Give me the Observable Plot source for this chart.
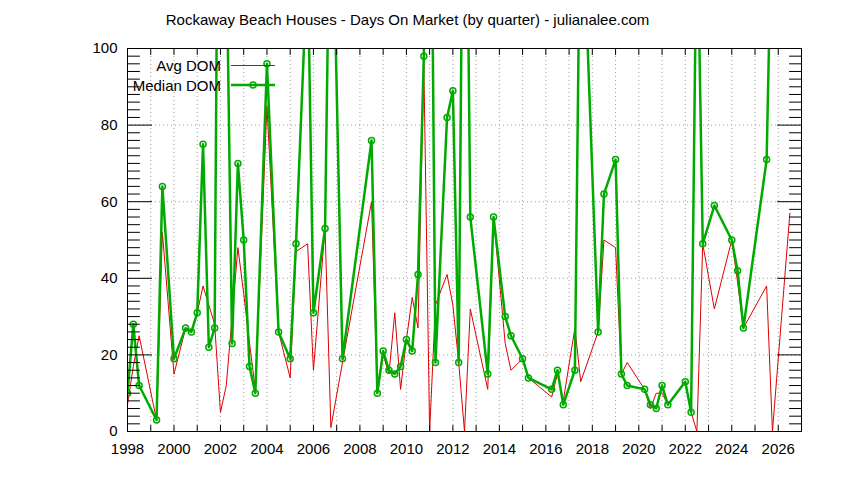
<!DOCTYPE html>
<html>
<head>
<meta charset="utf-8">
<script src="https://cdn.jsdelivr.net/npm/d3@7"></script>
<script src="https://cdn.jsdelivr.net/npm/@observablehq/plot@0.6"></script>
<style>
  body { margin: 0; background: #fff; font-family: "Liberation Sans", Arial, sans-serif; }
  #wrap { position: relative; width: 844px; height: 480px; overflow: hidden; }
  #title { position: absolute; left: 0; top: 0; width: 815px; height: 36px; text-align: center;
           font-size: 15px; line-height: 40px; color: #000; }
  #chart { position: absolute; left: 0; top: 36px; }
  #legend { position: absolute; left: 0; top: 0; pointer-events: none; }
</style>
</head>
<body>
<div id="wrap">
  <div id="title">Rockaway Beach Houses - Days On Market (by quarter) - julianalee.com</div>
  <div id="chart"></div>
  <svg id="legend" width="844" height="100" font-family="Liberation Sans, Arial, sans-serif" font-size="15">
    <text x="221" y="65" text-anchor="end" dominant-baseline="central">Avg DOM</text>
    <line x1="231" x2="275" y1="65.5" y2="65.5" stroke="#dd0000" stroke-width="1"></line>
    <text x="221" y="85" text-anchor="end" dominant-baseline="central">Median DOM</text>
    <line x1="231" x2="275" y1="85" y2="85" stroke="#00aa00" stroke-width="2.5"></line>
    <circle cx="253" cy="85" r="3" fill="none" stroke="#00aa00" stroke-width="1.5"></circle>
  </svg>
</div>
<script>
// Quarter positions (year + fraction)
const quarters = [
  1998.0, 1998.25, 1998.5, 1999.25, 1999.5, 2000.0, 2000.5, 2000.75, 2001.0, 2001.25,
  2001.5, 2001.75, 2002.0, 2002.25, 2002.5, 2002.75, 2003.0, 2003.25, 2003.5, 2004.0,
  2004.5, 2005.0, 2005.25, 2005.75, 2006.0, 2006.5, 2006.75, 2007.25, 2008.5, 2008.75,
  2009.0, 2009.25, 2009.5, 2009.75, 2010.0, 2010.25, 2010.5, 2010.75, 2011.0, 2011.25,
  2011.75, 2012.0, 2012.25, 2012.5, 2012.75, 2013.5, 2013.75, 2014.25, 2014.5, 2015.0,
  2015.25, 2016.25, 2016.5, 2016.75, 2017.25, 2017.5, 2018.25, 2018.5, 2019.0, 2019.25,
  2019.5, 2020.25, 2020.5, 2020.75, 2021.0, 2021.25, 2022.0, 2022.25, 2022.5, 2022.75,
  2023.25, 2024.0, 2024.25, 2024.5, 2025.5, 2025.75, 2026.5
];
// Average days on market
const avgDom = [
  7, 17, 25, 3, 52, 15, 27, 26, 31, 38,
  33, 28, 5, 12, 30, 48, 36, 23, 11, 85,
  26, 14, 47, 49, 16, 53, 1, 18, 60, 10,
  20, 15, 31, 11, 24, 35, 27, 96, 0, 33,
  41, 33, 18, 0, 32, 11, 56, 23, 16, 19,
  14, 9, 15, 8, 27, 13, 26, 50, 48, 15,
  18, 11, 6, 10, 10, 7, 13, 5, 0, 49,
  32, 50, 39, 27, 38, 0, 57
];
// Median days on market (null = no value)
const medianDom = [
  10, 28, 12, 3, 64, 19, 27, 26, 31, 75,
  22, 27, 250, 130, 23, 70, 50, 17, 10, 96,
  26, 19, 49, 124, 31, 53, 160, 19, 76, 10,
  21, 16, 15, 17, 24, 21, 41, 98, 200, 18,
  82, 89, 18, 200, 56, 15, 56, 30, 25, 19,
  14, 11, 16, 7, 16, 150, 26, 62, 71, 15,
  12, 11, 7, 6, 12, 7, 13, 5, 140, 49,
  59, 50, 42, 27, 71, 145, null
];
const yearTicks = d3.range(1998, 2028);
const yearLabels = d3.range(1998, 2027, 2);
const yLabels = [0, 20, 40, 60, 80, 100];
const yGrid = [20, 40, 60, 80];
const yMinor = d3.range(0, 101, 2);

const rows = quarters.map((q, i) => ({q, avg: avgDom[i], med: medianDom[i]}));

const tickShape = {draw(ctx, l) { ctx.moveTo(0, 0); ctx.lineTo(0, -l); }};
const grid = {stroke: "#a0a0a0", strokeOpacity: 1, strokeDasharray: "1,3"};
const tk = {shape: tickShape, anchor: "start", stroke: "black", strokeWidth: 1};

const chart = Plot.plot({
  width: 844,
  height: 444,
  marginTop: 12,
  marginBottom: 49,
  marginLeft: 127,
  marginRight: 43,
  style: {fontFamily: "Liberation Sans, Arial, sans-serif", fontSize: "15px", color: "black", background: "white", overflow: "visible"},
  x: {domain: [1998, 2027]},
  y: {domain: [0, 100]},
  marks: [
    Plot.gridX(yearTicks, grid),
    Plot.gridY(yGrid, grid),
    Plot.line(rows, {x: "q", y: "avg", filter: d => d.avg != null, stroke: "#dd0000", strokeWidth: 1, clip: true}),
    Plot.line(rows, {x: "q", y: "med", filter: d => d.med != null, stroke: "#00aa00", strokeWidth: 2.5, clip: true}),
    Plot.dot(rows, {x: "q", y: "med", filter: d => d.med != null, r: 3, stroke: "#00aa00", strokeWidth: 1.5, fill: "none", clip: true}),
    Plot.vector(yearTicks, {...tk, x: d => d, frameAnchor: "bottom", length: 6, rotate: 0}),
    Plot.vector(yearTicks, {...tk, x: d => d, frameAnchor: "top", length: 6, rotate: 180}),
    Plot.vector(yMinor, {...tk, y: d => d, frameAnchor: "left", length: d => d % 20 === 0 ? 6 : 3, rotate: 90}),
    Plot.vector(yMinor, {...tk, y: d => d, frameAnchor: "right", length: d => d % 20 === 0 ? 6 : 3, rotate: -90}),
    Plot.frame({stroke: "black", strokeWidth: 1}),
    Plot.axisX(yearLabels, {anchor: "bottom", tickSize: 0, tickPadding: 12, tickFormat: d => String(d), label: null}),
    Plot.axisY(yLabels, {anchor: "left", tickSize: 0, tickPadding: 10, label: null})
  ]
});
document.getElementById("chart").appendChild(chart);
</script>
</body>
</html>
